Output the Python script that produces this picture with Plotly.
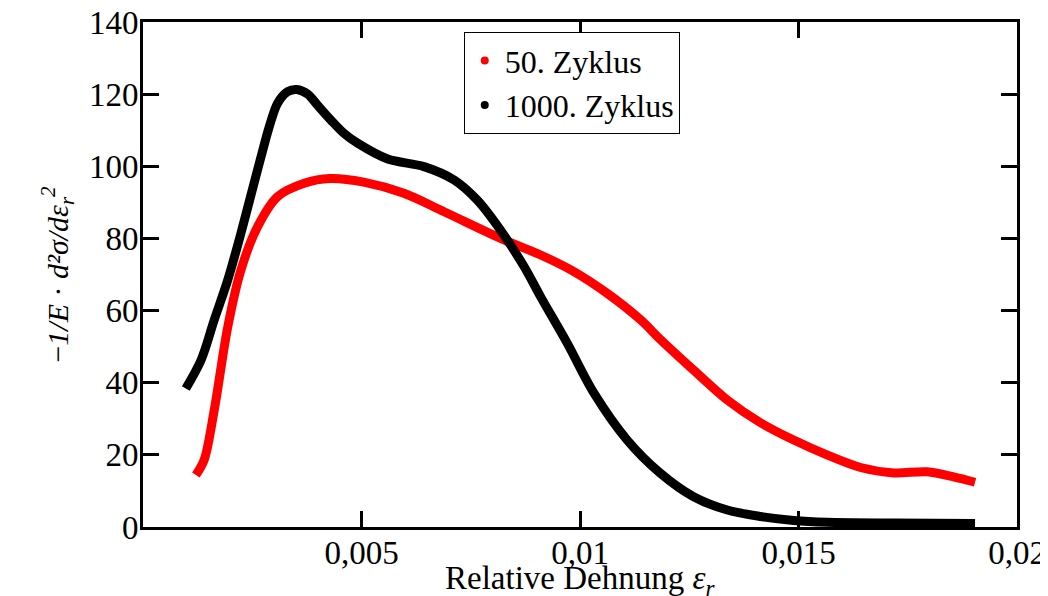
import plotly.graph_objects as go

# 50. Zyklus
x_50 = [0.00121, 0.0014, 0.00163, 0.00194, 0.00224, 0.00262, 0.00308, 0.00369, 0.00428,
        0.00505, 0.00597, 0.00689, 0.00826, 0.0091, 0.00986, 0.01062, 0.01139, 0.01184,
        0.0126, 0.01337, 0.01413, 0.01489, 0.01565, 0.01642, 0.01718, 0.01794, 0.01855,
        0.01904]
y_50 = [14.4, 18.6, 32.4, 55.5, 71.2, 83.2, 91.6, 95.3, 96.6,
        95.6, 92.5, 87.4, 79.6, 75.4, 70.8, 64.8, 57.4, 52.0,
        43.5, 35.2, 28.9, 24.1, 20.0, 16.5, 15.0, 15.3, 13.9,
        12.4]

# 1000. Zyklus
x_1000 = [0.00098, 0.00133, 0.00163, 0.00194, 0.00224, 0.00251, 0.0027, 0.00289, 0.00308,
          0.00331, 0.00352, 0.00377, 0.00399, 0.0043, 0.0046, 0.00491, 0.0056, 0.00643,
          0.00712, 0.00765, 0.00818, 0.00872, 0.0091, 0.00971, 0.01032, 0.01108, 0.01184,
          0.0126, 0.01337, 0.01413, 0.01489, 0.01565, 0.01718, 0.01904]
y_1000 = [38.4, 46.3, 57.4, 68.5, 81.4, 93.9, 102.6, 111.0, 117.5,
          120.7, 121.3, 120.0, 117.0, 112.8, 109.1, 106.4, 102.0, 99.9,
          96.2, 90.6, 82.3, 72.2, 63.8, 50.9, 37.1, 24.1, 14.9,
          8.4, 4.7, 2.9, 1.8, 1.3, 1.1, 1.0]

x_ticks = [0.005, 0.01, 0.015, 0.02]
x_labels = ["0,005", "0,01", "0,015", "0,02"]
y_ticks = [0, 20, 40, 60, 80, 100, 120, 140]

police = "Liberation Serif"

fig = go.Figure()
fig.add_trace(go.Scatter(x=x_50, y=y_50, mode="lines",
                         line=dict(color="#ff0000", width=9, shape="spline", smoothing=0.9),
                         showlegend=False))
fig.add_trace(go.Scatter(x=x_1000, y=y_1000, mode="lines",
                         line=dict(color="black", width=9, shape="spline", smoothing=0.9),
                         showlegend=False))
# entrées de légende avec des points
fig.add_trace(go.Scatter(x=[None], y=[None], mode="markers", marker=dict(color="#ff0000", size=8),
                         name="50. Zyklus"))
fig.add_trace(go.Scatter(x=[None], y=[None], mode="markers", marker=dict(color="black", size=8),
                         name="1000. Zyklus"))

axe = dict(showline=True, linecolor="black", linewidth=3, mirror="ticks", ticks="inside",
           ticklen=16, tickwidth=3, tickcolor="black", showgrid=False, zeroline=False,
           automargin=False, ticklabeloverflow="allow",
           tickfont=dict(family=police, size=33, color="black"))

fig.update_xaxes(range=[0, 0.02], tickvals=x_ticks, ticktext=x_labels, ticklabelstandoff=-6, **axe)
fig.update_yaxes(range=[0, 140], tickvals=y_ticks, ticklabelstandoff=-5,
                 title=dict(text="−<i>1/E</i> · <i>d²σ/dε<sub>r</sub><sup>2</sup></i>", standoff=12,
                            font=dict(family=police, size=30, color="black")), **axe)

# titre de l'axe x en annotation pour le placer sous les graduations
fig.add_annotation(text="Relative Dehnung <i>ε<sub>r</sub></i>", xref="paper", yref="paper",
                   x=0.5, y=-0.105, xanchor="center", yanchor="middle", showarrow=False,
                   font=dict(family=police, size=33, color="black"))

# la page ajoute une marge de 8 px : figure un peu plus petite que la fenêtre
fig.update_layout(width=1040, height=588, margin=dict(l=135, r=31, t=14, b=69),
                  plot_bgcolor="white", paper_bgcolor="white",
                  font=dict(family=police, size=30, color="black"),
                  legend=dict(x=0.367, y=0.98, xanchor="left", yanchor="top",
                              bordercolor="black", borderwidth=1, bgcolor="white",
                              font=dict(family=police, size=32), itemwidth=30,
                              tracegroupgap=0))

fig.write_html("out.html")
